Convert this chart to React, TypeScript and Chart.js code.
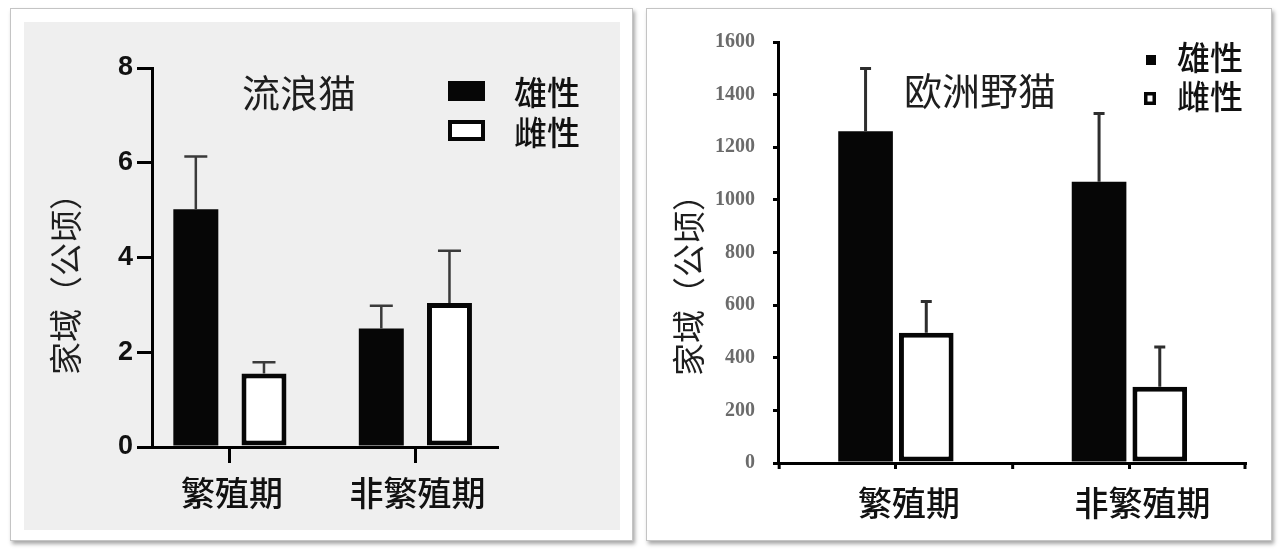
import React, { useRef, useEffect } from "react";
import { Chart, registerables } from "chart.js";

Chart.register(...registerables);

const periods = ["繁殖期", "非繁殖期"];
const sexes = ["雄性", "雌性"];

// 流浪猫 home range (ha), mean and upper error
const feralMale = [5.02, 2.5];
const feralMaleErr = [1.11, 0.48];
const feralFemale = [1.55, 3.04];
const feralFemaleErr = [0.24, 1.1];
const feralTicks = [0, 2, 4, 6, 8];

// 欧洲野猫 home range (ha)
const wildMale = [1261, 1069];
const wildMaleErr = [238, 259];
const wildFemale = [495, 290];
const wildFemaleErr = [119, 151];
const wildTicks = [0, 200, 400, 600, 800, 1000, 1200, 1400, 1600];

const CJK = '"Noto Sans CJK SC", "Noto Sans", sans-serif';

const errorBars = {
  id: "errorBars",
  afterDatasetsDraw(chart: any, _args: any, opts: any) {
    const { ctx } = chart;
    const y = chart.scales.y;
    chart.data.datasets.forEach((ds: any, i: number) => {
      const meta = chart.getDatasetMeta(i);
      meta.data.forEach((bar: any, j: number) => {
        const top = y.getPixelForValue(ds.data[j].y + ds.errors[j]);
        ctx.save();
        ctx.strokeStyle = opts.color;
        ctx.lineWidth = opts.width;
        ctx.beginPath();
        ctx.moveTo(bar.x, bar.y);
        ctx.lineTo(bar.x, top);
        ctx.moveTo(bar.x - opts.cap / 2, top);
        ctx.lineTo(bar.x + opts.cap / 2, top);
        ctx.stroke();
        ctx.restore();
      });
    });
  },
};

// title, rotated axis title and the legend boxes
const decor = {
  id: "decor",
  afterDraw(chart: any, _args: any, o: any) {
    const { ctx, chartArea } = chart;
    ctx.save();
    ctx.fillStyle = "#1e1e1e";
    ctx.textBaseline = "middle";
    ctx.textAlign = "center";
    ctx.font = `${o.titleSize}px ${CJK}`;
    ctx.fillText(o.title, o.titleX, o.titleY);

    ctx.save();
    ctx.translate(o.yTitleX, o.yTitleY);
    ctx.rotate(-Math.PI / 2);
    ctx.font = `${o.yTitleSize}px ${CJK}`;
    ctx.fillText("家域（公顷）", 0, 0);
    ctx.restore();

    ctx.textAlign = "left";
    ctx.font = `500 ${o.legendSize}px ${CJK}`;
    chart.data.datasets.forEach((ds: any, i: number) => {
      const b = o.boxes[i];
      ctx.fillStyle = ds.borderColor;
      ctx.fillRect(b[0], b[1], b[2], b[3]);
      if (ds.borderWidth) {
        ctx.fillStyle = ds.backgroundColor;
        const w = o.boxBorder;
        ctx.fillRect(b[0] + w, b[1] + w, b[2] - 2 * w, b[3] - 2 * w);
      }
      ctx.fillStyle = "#111";
      ctx.fillText(ds.label, o.legendX, o.legendY[i]);
    });

    // extra x tick marks halfway between the periods
    if (o.edgeTicks) {
      const x = chart.scales.x;
      ctx.strokeStyle = "#000";
      ctx.lineWidth = 3;
      [-0.5, 0.5, 1.5].forEach((v) => {
        const px = Math.min(Math.max(x.getPixelForValue(v), chartArea.left), chartArea.right);
        ctx.beginPath();
        ctx.moveTo(px, chartArea.bottom);
        ctx.lineTo(px, chartArea.bottom + 6);
        ctx.stroke();
      });
    }
    ctx.restore();
  },
};

function makeConfig(p: any): any {
  const points = (vals: number[]) => vals.map((v, i) => ({ x: i, y: v }));
  return {
    type: "bar",
    data: {
      datasets: [
        {
          label: sexes[0],
          data: points(p.male),
          errors: p.maleErr,
          backgroundColor: "#060606",
          borderColor: "#060606",
          borderWidth: 0,
          categoryPercentage: p.catPct,
          barPercentage: p.barPct,
        },
        {
          label: sexes[1],
          data: points(p.female),
          errors: p.femaleErr,
          backgroundColor: "#ffffff",
          borderColor: "#060606",
          borderWidth: 5,
          borderSkipped: false,
          categoryPercentage: p.catPct,
          barPercentage: p.barPct,
        },
      ],
    },
    options: {
      animation: false,
      responsive: true,
      maintainAspectRatio: false,
      events: [],
      layout: { padding: p.padding },
      plugins: {
        legend: { display: false },
        tooltip: { enabled: false },
        errorBars: p.err,
        decor: p.decor,
      },
      scales: {
        x: {
          type: "linear",
          offset: false,
          min: p.xMin,
          max: p.xMax,
          afterFit: (s: any) => {
            s.height = p.xHeight;
          },
          afterBuildTicks: (s: any) => {
            s.ticks = periods.map((_c, i) => ({ value: i }));
          },
          grid: {
            offset: false,
            drawOnChartArea: false,
            color: "#000",
            lineWidth: 3,
            tickLength: p.xTick,
          },
          border: { display: true, color: "#000", width: 3 },
          ticks: {
            color: "#111",
            padding: p.xPad,
            labelOffset: p.xLabelOffset,
            font: { family: CJK, size: 34, weight: 500 },
            callback: (v: number) => periods[v] ?? "",
          },
        },
        y: {
          min: 0,
          max: p.ticks[p.ticks.length - 1],
          afterFit: (s: any) => {
            s.width = p.yWidth;
          },
          afterBuildTicks: (s: any) => {
            s.ticks = p.ticks.map((v: number) => ({ value: v }));
          },
          grid: {
            drawOnChartArea: false,
            color: "#000",
            lineWidth: 3,
            tickLength: p.yTick,
          },
          border: { display: true, color: "#000", width: 3 },
          ticks: {
            color: p.yColor,
            padding: p.yPad,
            font: p.yFont,
            callback: (v: number) => String(v),
          },
        },
      },
    },
    plugins: [errorBars, decor],
  };
}

const feralConfig = () =>
  makeConfig({
    male: feralMale,
    maleErr: feralMaleErr,
    female: feralFemale,
    femaleErr: feralFemaleErr,
    ticks: feralTicks,
    xMin: -0.42,
    xMax: 1.44,
    catPct: 0.735,
    barPct: 0.66,
    padding: { left: 0, top: 46, right: 123, bottom: 0 },
    xHeight: 83,
    yWidth: 128,
    xTick: 16,
    xPad: 10,
    xLabelOffset: 2,
    yTick: 15,
    yPad: 4,
    yColor: "#111",
    yFont: { family: '"Liberation Sans Narrow", "Liberation Sans", Arial, sans-serif', size: 27, weight: "bold" },
    err: { color: "#3a3a3a", width: 2.5, cap: 23 },
    decor: {
      title: "流浪猫",
      titleSize: 38,
      titleX: 275,
      titleY: 71,
      yTitleX: 41,
      yTitleY: 254,
      yTitleSize: 33,
      legendSize: 33,
      legendX: 490,
      legendY: [70, 110],
      boxes: [
        [424, 59, 37, 20],
        [424, 98, 37, 21],
      ],
      boxBorder: 4,
      edgeTicks: false,
    },
  });

const wildConfig = () =>
  makeConfig({
    male: wildMale,
    maleErr: wildMaleErr,
    female: wildFemale,
    femaleErr: wildFemaleErr,
    ticks: wildTicks,
    xMin: -0.505,
    xMax: 1.495,
    catPct: 0.52,
    barPct: 0.9,
    padding: { left: 0, top: 33, right: 25, bottom: 0 },
    xHeight: 76,
    yWidth: 130,
    xTick: 6,
    xPad: 14,
    xLabelOffset: 13,
    yTick: 5,
    yPad: 18,
    yColor: "#6b6b6b",
    yFont: { family: '"Liberation Serif", "DejaVu Serif", serif', size: 20, weight: "bold" },
    err: { color: "#2e2e2e", width: 3, cap: 11 },
    decor: {
      title: "欧洲野猫",
      titleSize: 38,
      titleX: 332,
      titleY: 82,
      yTitleX: 40,
      yTitleY: 268,
      yTitleSize: 33,
      legendSize: 33,
      legendX: 529,
      legendY: [48, 87],
      boxes: [
        [498, 46, 10, 10],
        [496, 83, 12, 13],
      ],
      boxBorder: 3.5,
      edgeTicks: true,
    },
  });

const ChartCanvas: React.FC<{ config: () => any; style: React.CSSProperties }> = ({ config, style }) => {
  const chartRef = useRef<HTMLCanvasElement | null>(null);

  useEffect(() => {
    if (chartRef.current) {
      const chart = new Chart(chartRef.current, config());
      return () => {
        chart.destroy();
      };
    }
  }, [config]);

  return (
    <div style={{ position: "absolute", ...style }}>
      <canvas ref={chartRef}></canvas>
    </div>
  );
};

const frame: React.CSSProperties = {
  position: "absolute",
  boxSizing: "border-box",
  background: "#fff",
  border: "1px solid #c4c4c4",
  boxShadow: "2px 3px 4px rgba(0,0,0,0.35)",
};

export default function App() {
  return (
    <div style={{ position: "fixed", left: 0, top: 0, width: 1280, height: 555, background: "#fff", overflow: "hidden" }}>
      <div style={{ ...frame, left: 10, top: 8, width: 623, height: 533 }} />
      <div style={{ position: "absolute", left: 24, top: 22, width: 596, height: 508, background: "#efefef" }} />
      <ChartCanvas config={feralConfig} style={{ left: 24, top: 22, width: 596, height: 508 }} />
      <div style={{ ...frame, left: 646, top: 8, width: 626, height: 533 }} />
      <ChartCanvas config={wildConfig} style={{ left: 648, top: 9, width: 622, height: 530 }} />
    </div>
  );
}
